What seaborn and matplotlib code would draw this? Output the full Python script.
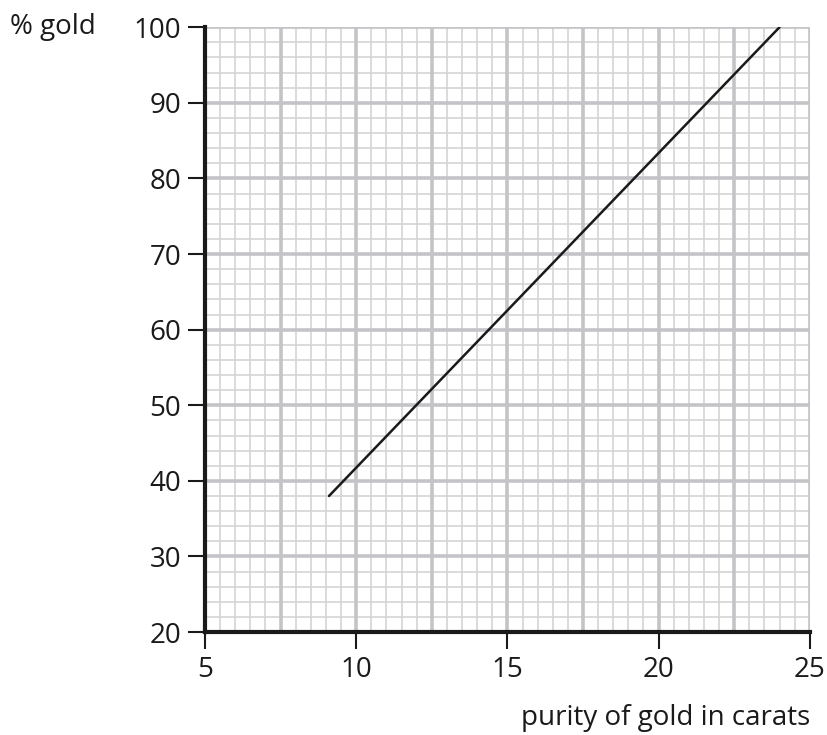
import numpy as np
import pandas as pd
import matplotlib
matplotlib.use("Agg")
import matplotlib.pyplot as plt
import seaborn as sns

# line data
carats = [9.1, 24]
gold_pct = [38, 100]

x_ticks = [5, 10, 15, 20, 25]
y_ticks = [20, 30, 40, 50, 60, 70, 80, 90, 100]

sns.set_style("white")
plt.rcParams['font.family'] = ['Open Sans', 'DejaVu Sans']

df = pd.DataFrame({"carats": carats, "gold": gold_pct})

fig = plt.figure(figsize=(8.28, 7.35), dpi=100)
ax = fig.add_axes([0.2476, 0.140, 0.7304, 0.823])

# graph paper grid
for xv in np.arange(5, 25.01, 0.5):
    major = abs((xv / 2.5) - round(xv / 2.5)) < 1e-6
    ax.axvline(xv, color="#c4c4c8" if major else "#d4d4d4",
               lw=2.6 if major else 1.2, zorder=1 if major else 0)
for yv in np.arange(20, 100.01, 2):
    major = yv % 10 == 0
    ax.axhline(yv, color="#c4c4c8" if major else "#d4d4d4",
               lw=2.6 if major else 1.2, zorder=1 if major else 0)

sns.lineplot(data=df, x="carats", y="gold", color="#1a1a1a", lw=1.8, ax=ax, zorder=3)

ax.set_xlim(5, 25)
ax.set_ylim(20, 100)
ax.set_xticks(x_ticks)
ax.set_yticks(y_ticks)
ax.set_xlabel("")
ax.set_ylabel("")

for s in ["top", "right"]:
    ax.spines[s].set_visible(False)
for s in ["left", "bottom"]:
    ax.spines[s].set_color("#1a1a1a")
    ax.spines[s].set_linewidth(3)
    ax.spines[s].set_zorder(4)

ax.tick_params(axis="both", direction="out", length=12, width=1.5,
               bottom=True, left=True,
               color="#1a1a1a", labelsize=20, labelcolor="#1a1a1a", pad=5)

fig.text(0.012, 0.963, "% gold", fontsize=20, color="#1a1a1a", va="center", ha="left")
fig.text(0.978, 0.023, "purity of gold in carats", fontsize=20, color="#1a1a1a",
         va="center", ha="right")

fig.savefig("out.png", dpi=100)
